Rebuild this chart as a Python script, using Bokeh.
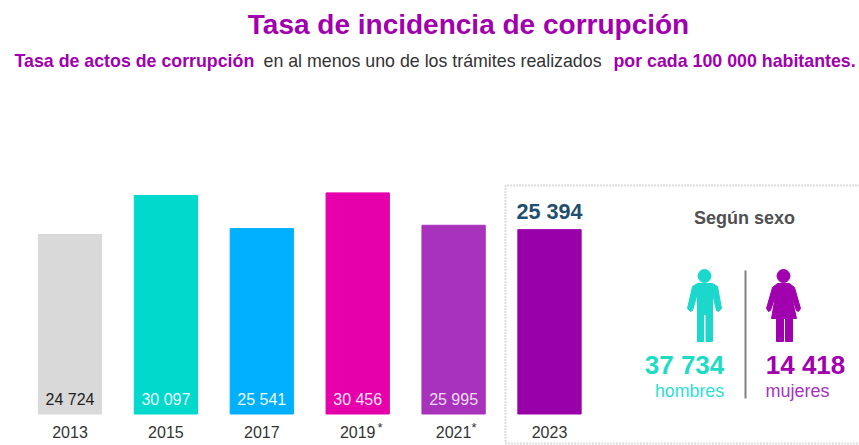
from bokeh.embed import file_html
from bokeh.resources import INLINE
from bokeh.plotting import figure
from bokeh.models import Label, Range1d, FixedTicker, ColumnDataSource

years = ["2013", "2015", "2017", "2019", "2021", "2023"]
rates = [24724, 30097, 25541, 30456, 25995, 25394]
bar_colors = ["#D9D9D9", "#00D9CC", "#00B0FF", "#E600AC", "#A832BC", "#9900A8"]
label_colors = ["#222222", "#E8FFFC", "#E8F8FF", "#FFE0F5", "#F3DDF7"]
men_rate = 37734
women_rate = 14418

W, H = 859, 445
PX_PER_X = 95.9
PX_PER_Y = 0.00726
X0_PAGE = 69.5
Y0_PAGE = 413.5

def dx(px):
    return (px - X0_PAGE) / PX_PER_X

def dy(py):
    return (Y0_PAGE - py) / PX_PER_Y

def fmt(v):
    return f"{v:,}".replace(",", " ")

p = figure(width=W, height=H, output_backend="svg", toolbar_location=None,
           x_range=Range1d(dx(0), dx(859)), y_range=Range1d(dy(445), dy(0)),
           min_border=0, min_border_left=0, min_border_right=0,
           min_border_top=0, min_border_bottom=0, outline_line_color=None)
p.grid.visible = False
p.yaxis.visible = False

xa = p.xaxis[0]
xa.fixed_location = 0
xa.ticker = FixedTicker(ticks=list(range(len(years))))
xa.major_label_overrides = {i: y for i, y in enumerate(years)}
xa.axis_line_color = None
xa.major_tick_line_color = None
xa.minor_tick_line_color = None
xa.major_label_standoff = 6
xa.major_label_text_font = "Liberation Sans"
xa.major_label_text_font_size = "16px"
xa.major_label_text_color = "#333333"

src = ColumnDataSource(dict(x=list(range(len(years))), top=rates, color=bar_colors))
p.vbar(x="x", top="top", bottom=0, width=0.66, color="color", source=src)

def txt(s, x, y, size, color, bold=False, align="left"):
    p.add_layout(Label(x=dx(x), y=dy(y), text=s, text_font="Liberation Sans",
                       text_font_size=f"{size}px", text_color=color,
                       text_font_style="bold" if bold else "normal",
                       text_align=align, text_baseline="middle"))

PURPLE = "#A100AE"
txt("Tasa de incidencia de corrupción", 468, 24, 28, PURPLE, True, "center")
txt("Tasa de actos de corrupción", 14, 60, 17.8, PURPLE, True)
txt("en al menos uno de los trámites realizados", 263, 60, 17.8, "#333333")
txt("por cada 100 000 habitantes.", 613, 60, 17.8, PURPLE, True)

for i, v in enumerate(rates[:5]):
    txt(fmt(v), X0_PAGE + i * PX_PER_X, 399, 16, label_colors[i], False, "center")
txt(fmt(rates[5]), 549, 211, 21.6, "#1F4E6E", True, "center")
txt("*", 377, 427, 13, "#333333", False, "left")
txt("*", 471, 427, 13, "#333333", False, "left")

# dotted box
p.line([dx(859), dx(505), dx(505), dx(859)], [dy(185), dy(185), dy(443), dy(443)],
       line_color="#BBBBBB", line_width=2, line_dash="1 2")

txt("Según sexo", 744, 217, 18, "#505050", True, "center")
p.line([dx(745), dx(745)], [dy(270), dy(398)], line_color="#808080", line_width=2)

txt(fmt(men_rate), 684, 364, 26, "#1CDCC4", True, "center")
txt("hombres", 689, 390, 17.8, "#2FE0D2", False, "center")
txt(fmt(women_rate), 805, 364, 26, PURPLE, True, "center")
txt("mujeres", 797, 390, 18, "#A832BC", False, "center")

# man icon
MAN = "#1CD8CC"
man_pts = [(697, 283), (712, 283), (717, 286), (721, 308), (718, 311), (716, 310), (712, 293),
           (712, 341), (705.5, 341), (705.5, 314), (703, 314), (703, 341),
           (697, 341), (697, 293), (692, 310), (690, 311), (687, 308), (692, 286)]
p.patch([dx(a) for a, b in man_pts], [dy(b) for a, b in man_pts], color=MAN)
p.scatter([dx(704)], [dy(275.5)], size=13, color=MAN)

# woman icon
WOM = "#A100AE"
wom_pts = [(777, 283), (789, 283), (794, 287), (800, 308), (798, 311), (796, 310), (791, 295),
           (796, 318), (792, 318), (792, 341), (785, 341), (785, 318), (783, 318), (783, 341),
           (776, 341), (776, 318), (771, 318), (775, 295), (770, 310), (768, 311), (766, 308), (772, 287)]
p.patch([dx(a) for a, b in wom_pts], [dy(b) for a, b in wom_pts], color=WOM)
p.scatter([dx(783)], [dy(275.5)], size=13, color=WOM)

open("out.html", "w").write(file_html(p, INLINE))
